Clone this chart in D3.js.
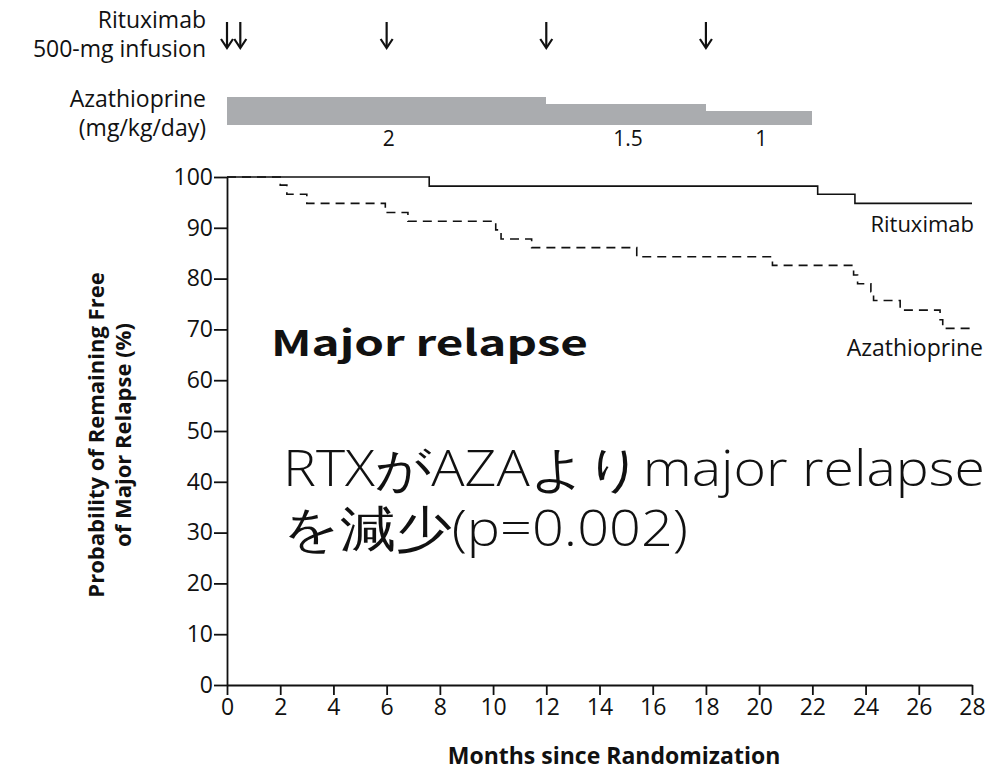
<!DOCTYPE html>
<meta charset="utf-8">
<head>
    <style>
        body { margin: 0; background: white; }
        text { font-family: "Open Sans", Lato, sans-serif; fill: #111; }
        .tick text { font-size: 23px; }
        .axis path, .axis line { stroke: #111; stroke-width: 1.8px; }
    </style>
</head>
<body>
    <script src="https://cdn.jsdelivr.net/npm/d3@7"></script>
    <div id="chart"></div>
    <script>
        // survival curves (months, percent free of major relapse)
        var rtxMonths = [0, 7.6, 22.2, 23.6, 28];
        var rtxValues = [100, 98.2, 96.6, 94.8, 94.8];
        var azaMonths = [0, 2.0, 2.25, 3.0, 5.95, 6.8, 10.1, 10.3, 11.45, 15.4, 20.5, 23.55, 23.7, 24.2, 24.3, 25.3, 26.8, 26.9, 28];
        var azaValues = [100, 98.4, 96.6, 94.8, 93.0, 91.3, 89.6, 87.8, 86.1, 84.3, 82.6, 80.7, 79.0, 77.4, 75.7, 73.8, 71.9, 70.2, 70.2];

        // treatment schedule
        var infusionMonths = [0, 0.5, 6, 12, 18];
        var doseStart = [0, 12, 18];
        var doseEnd = [12, 18, 22];
        var doseValue = [2, 1.5, 1];
        var doseLabels = ["2", "1.5", "1"];

        var xTicks = d3.range(0, 29, 2);
        var yTicks = d3.range(0, 101, 10);

        var svg = d3.select("#chart").append("svg")
            .attr("width", 1001)
            .attr("height", 772);

        var x = d3.scaleLinear().domain([0, 28]).range([227, 972]);
        var y = d3.scaleLinear().domain([0, 100]).range([685, 177]);
        var doseY = d3.scaleLinear().domain([0, 2]).range([125, 96.5]);

        // axes
        svg.append("g")
            .attr("class", "axis")
            .attr("transform", "translate(0,685)")
            .call(d3.axisBottom(x).tickValues(xTicks).tickSize(10).tickPadding(2).tickSizeOuter(0))
            .selectAll("text").attr("dy", "0.78em");

        svg.append("g")
            .attr("class", "axis")
            .attr("transform", "translate(227,0)")
            .call(d3.axisLeft(y).tickValues(yTicks).tickSize(13).tickPadding(1).tickSizeOuter(0));

        svg.selectAll(".axis .domain").attr("stroke-width", 2);

        // curves
        var line = d3.line()
            .x(function (d) { return x(d[0]); })
            .y(function (d) { return y(d[1]); })
            .curve(d3.curveStepAfter);

        svg.append("path")
            .datum(d3.zip(rtxMonths, rtxValues))
            .attr("d", line)
            .attr("fill", "none")
            .attr("stroke", "#111")
            .attr("stroke-width", 1.6);

        svg.append("path")
            .datum(d3.zip(azaMonths, azaValues))
            .attr("d", line)
            .attr("fill", "none")
            .attr("stroke", "#111")
            .attr("stroke-width", 1.6)
            .attr("stroke-dasharray", "9,6");

        svg.append("text").attr("x", 974).attr("y", 232)
            .attr("text-anchor", "end").style("font-size", "22px").text("Rituximab");
        svg.append("text").attr("x", 983).attr("y", 356)
            .attr("text-anchor", "end").style("font-size", "23px").text("Azathioprine");

        // infusion arrows
        var arrows = svg.append("g").selectAll("g")
            .data(infusionMonths).enter().append("g")
            .attr("transform", function (d) { return "translate(" + x(d) + ",0)"; });
        arrows.append("line")
            .attr("y1", 22).attr("y2", 47)
            .attr("stroke", "#111").attr("stroke-width", 2.2);
        arrows.append("path")
            .attr("d", "M-6,39 L0,48 L6,39")
            .attr("fill", "none").attr("stroke", "#111").attr("stroke-width", 2.2);

        // azathioprine dose bar
        svg.append("g").selectAll("rect")
            .data(doseValue).enter().append("rect")
            .attr("x", function (d, i) { return x(doseStart[i]); })
            .attr("width", function (d, i) { return x(doseEnd[i]) - x(doseStart[i]); })
            .attr("y", function (d) { return doseY(d); })
            .attr("height", function (d) { return doseY(0) - doseY(d); })
            .attr("fill", "#aaacaf")
            .attr("shape-rendering", "crispEdges");

        svg.append("g").selectAll("text")
            .data(doseLabels).enter().append("text")
            .attr("x", function (d, i) { return x((doseStart[i] + doseEnd[i]) / 2) + 2; })
            .attr("y", 146)
            .attr("text-anchor", "middle")
            .style("font-size", "21px")
            .text(function (d) { return d; });

        // left labels
        var leftLabels = [["Rituximab", 28], ["500-mg infusion", 57], ["Azathioprine", 107], ["(mg/kg/day)", 136]];
        svg.append("g").selectAll("text")
            .data(leftLabels).enter().append("text")
            .attr("x", 206)
            .attr("y", function (d) { return d[1]; })
            .attr("text-anchor", "end")
            .style("font-size", "23px")
            .text(function (d) { return d[0]; });

        // axis titles
        var yTitle = svg.append("text")
            .attr("transform", "translate(109,435) rotate(-90)")
            .attr("text-anchor", "middle")
            .style("font-size", "22px")
            .style("font-weight", "bold");
        yTitle.append("tspan").attr("x", 0).attr("dy", "-0.25em").text("Probability of Remaining Free");
        yTitle.append("tspan").attr("x", 0).attr("dy", "1.25em").text("of Major Relapse (%)");

        svg.append("text")
            .attr("x", 614).attr("y", 764)
            .attr("text-anchor", "middle")
            .style("font-size", "23px")
            .style("font-weight", "bold")
            .text("Months since Randomization");

        // annotations
        svg.append("text")
            .attr("x", 271).attr("y", 356)
            .attr("textLength", 317)
            .attr("lengthAdjust", "spacingAndGlyphs")
            .style("font-family", "'Noto Sans CJK JP', sans-serif")
            .style("font-size", "35px")
            .style("font-weight", "bold")
            .text("Major relapse");

        var note = svg.append("g")
            .style("font-family", "'Noto Sans CJK JP', sans-serif")
            .style("font-size", "49px")
            .style("font-weight", "300");
        note.append("text").attr("x", 283).attr("y", 486)
            .attr("textLength", 702).attr("lengthAdjust", "spacingAndGlyphs")
            .text("RTXがAZAよりmajor relapse");
        note.append("text").attr("x", 283).attr("y", 546)
            .attr("textLength", 405).attr("lengthAdjust", "spacingAndGlyphs")
            .text("を減少(p=0.002)");
    </script>
</body>
